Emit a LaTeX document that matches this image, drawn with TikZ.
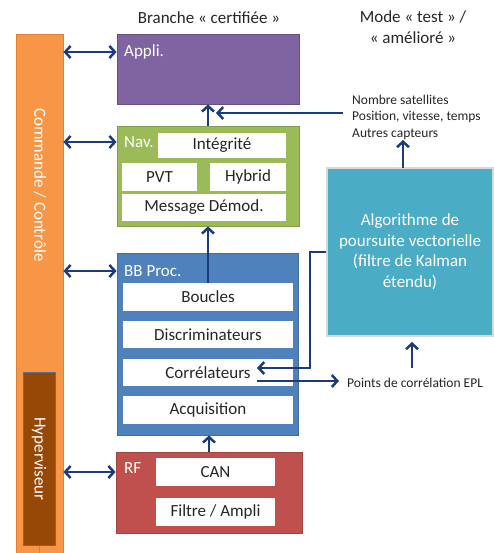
\documentclass[tikz,border=0pt]{standalone}
\usepackage{fontspec}
\setmainfont{Carlito}
\usetikzlibrary{arrows.meta}
\definecolor{cOrange}{HTML}{F79646}
\definecolor{cOrangeD}{HTML}{E07F35}
\definecolor{cBrown}{HTML}{974806}
\definecolor{cBrownB}{HTML}{5A6E8C}
\definecolor{cPurple}{HTML}{8064A2}
\definecolor{cGreen}{HTML}{9BBB59}
\definecolor{cBlue}{HTML}{4F81BD}
\definecolor{cRed}{HTML}{C0504D}
\definecolor{cCyan}{HTML}{4BACC6}
\definecolor{cNavy}{HTML}{1C3A7C}
\definecolor{cText}{HTML}{262626}
\tikzset{
  blk/.style={rectangle, inner sep=0pt, line width=0.8pt},
  wbox/.style={rectangle, fill=white, inner sep=0pt, text=cText, font=\fontsize{17}{20}\selectfont},
  lab/.style={anchor=west, inner sep=0pt, text=white, font=\fontsize{17}{20}\selectfont},
  arr/.style={draw=cNavy, line width=2.5pt, -{Straight Barb[length=5.5pt,width=12pt]}},
  darr/.style={draw=cNavy, line width=2.5pt, {Straight Barb[length=5.5pt,width=12pt]}-{Straight Barb[length=5.5pt,width=12pt]}},
  small/.style={inner sep=0pt, text=cText, font=\fontsize{13.5}{16.5}\selectfont},
}
\begin{document}
\begin{tikzpicture}[x=1pt,y=-1pt]
\useasboundingbox (0,0) rectangle (494,553);
% titles
\node[inner sep=0pt, text=cText, font=\fontsize{17}{20}\selectfont] (t1) at (209,18) {Branche « certifiée »};
\node[inner sep=0pt, text=cText, font=\fontsize{17}{21}\selectfont, align=center] (t2) at (413,27) {Mode « test » /\\« amélioré »};
% control bar
\node[blk, fill=cOrange, draw=cOrangeD, minimum width=47pt, minimum height=524pt] (cmd) at (39.5,296) {};
\node[inner sep=0pt, text=white, rotate=-90, font=\fontsize{17}{20}\selectfont] (cmdt) at (40,185) {Commande / Contrôle};
\draw[cOrangeD, line width=1pt] (39,545) -- (39,556);
\node[blk, fill=cBrown, draw=cBrownB, minimum width=32pt, minimum height=173pt] (hyp) at (39,458.5) {};
\node[inner sep=0pt, text=white, rotate=-90, font=\fontsize{17}{20}\selectfont] (hypt) at (39,459) {Hyperviseur};
% Appli
\node[blk, fill=cPurple, draw=cPurple!80!black, minimum width=182pt, minimum height=70pt] (appli) at (208,69) {};
\node[lab] (applab) at (124,52) {Appli.};
% Nav
\node[blk, fill=cGreen, draw=cGreen!85!black, minimum width=182pt, minimum height=100pt] (nav) at (208,176) {};
\node[lab] (navlab) at (124,142) {Nav.};
\node[wbox, minimum width=128pt, minimum height=25pt] (integ) at (222,145.5) {Intégrité};
\node[wbox, minimum width=75pt, minimum height=28pt] (pvt) at (159.5,177) {PVT};
\node[wbox, minimum width=76pt, minimum height=28pt] (hyb) at (248,177) {Hybrid};
\node[wbox, minimum width=164pt, minimum height=27pt] (msg) at (204,207.5) {Message Démod.};
% BB Proc
\node[blk, fill=cBlue, draw=cBlue!85!black, minimum width=181pt, minimum height=182pt] (bb) at (207.5,344) {};
\node[lab] (bblab) at (124,271) {BB Proc.};
\node[wbox, minimum width=170pt, minimum height=28pt] (bouc) at (208,297) {Boucles};
\node[wbox, minimum width=170pt, minimum height=27pt] (disc) at (208,334.5) {Discriminateurs};
\node[wbox, minimum width=170pt, minimum height=27pt] (corr) at (208,372.5) {Corrélateurs};
\node[wbox, minimum width=170pt, minimum height=28pt] (acq) at (208,410) {Acquisition};
% RF
\node[blk, fill=cRed, draw=cRed!85!black, minimum width=186pt, minimum height=81pt] (rf) at (209,492.5) {};
\node[lab] (rflab) at (124,468) {RF};
\node[wbox, minimum width=119pt, minimum height=28pt] (can) at (215.5,472) {CAN};
\node[wbox, minimum width=119pt, minimum height=28pt] (filt) at (215.5,512) {Filtre / Ampli};
% Kalman
\node[blk, fill=cCyan, draw=black!15, line width=1.2pt, minimum width=166pt, minimum height=168pt, text=white, align=center, font=\fontsize{17}{20.5}\selectfont] (kal) at (410,252) {Algorithme de\\poursuite vectorielle\\(filtre de Kalman\\étendu)};
% small texts
\node[small, anchor=west, align=left] (info) at (352,117) {Nombre satellites\\Position, vitesse, temps\\Autres capteurs};
\node[small, anchor=west] (epl) at (347,383) {Points de corrélation EPL};
% coordinates
\coordinate (i1) at (343,113);
\coordinate (i2) at (216,113);
\coordinate (c1) at (310,368);
\coordinate (c2) at (257,368);
\coordinate (c3) at (257,381);
\coordinate (c4) at (339,381);
\coordinate (k1) at (412,368);
\coordinate (k2) at (412,342);
\coordinate (u1) at (403,168);
\coordinate (u2) at (403,140);
% arrows
\draw[darr] (cmd.east |- applab) -- (appli.west |- applab);
\draw[darr] (cmd.east |- navlab) -- (nav.west |- navlab);
\draw[darr] (cmd.east |- bblab) -- (bb.west |- bblab);
\draw[darr] (cmd.east |- 0,472) -- (rf.west |- 0,472);
\draw[arr] (nav.north) -- (appli.south);
\draw[arr] (bouc.north) -- (nav.south);
\draw[arr] (rf.north) -- (rf.north |- bb.south);
\draw[arr] (i1) -- (i2);
\draw[arr] (u1) -- (u2);
\draw[arr] (kal.west) -| (c1) -- (c2);
\draw[arr] (c3) -- (c4);
\draw[arr] (k1) -- (k2);
\end{tikzpicture}
\end{document}
